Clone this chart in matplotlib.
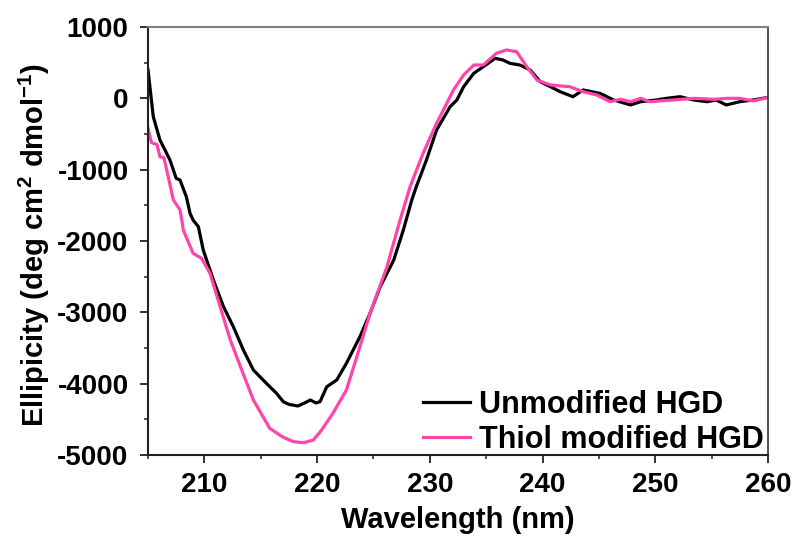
import matplotlib
matplotlib.use("Agg")
import matplotlib.pyplot as plt
from matplotlib.ticker import MultipleLocator

plt.rcParams['font.family'] = ['Liberation Sans', 'DejaVu Sans']
plt.rcParams['font.weight'] = 'bold'
plt.rcParams['axes.unicode_minus'] = False
plt.rcParams['mathtext.fontset'] = 'custom'
plt.rcParams['mathtext.bf'] = 'Liberation Sans:bold'
plt.rcParams['mathtext.rm'] = 'Liberation Sans:bold'
plt.rcParams['mathtext.default'] = 'bf'

# CD spectrum, unmodified protein
wl_unmod = [205.0, 205.47, 206.06, 206.95, 207.5, 207.84, 208.4, 208.73, 209.0, 209.47,
            209.9, 210.8, 211.7, 212.57, 213.46, 214.35, 215.5, 216.4, 217.0, 217.5,
            218.3, 218.9, 219.4, 219.9, 220.26, 220.86, 221.74, 222.6, 223.8, 224.7,
            225.6, 226.8, 227.65, 228.4, 228.8, 229.7, 230.6, 231.8, 232.4, 233.0,
            233.9, 234.75, 235.8, 236.5, 237.1, 238.0, 238.9, 239.8, 240.7, 241.56,
            242.7, 243.6, 245.1, 246.3, 247.8, 248.7, 250.1, 251.0, 252.2, 253.4,
            254.6, 255.4, 256.3, 257.5, 258.7, 260.0]
ell_unmod = [400, -258, -584, -865, -1121, -1145, -1379, -1612, -1706, -1800,
             -2126, -2547, -2921, -3202, -3528, -3809, -3995, -4135, -4253, -4290,
             -4313, -4270, -4229, -4270, -4253, -4043, -3949, -3715, -3342, -3014,
             -2641, -2267, -1846, -1425, -1239, -865, -444, -117, -23, 163,
             351, 444, 561, 537, 491, 467, 397, 233, 163, 93,
             23, 117, 70, -23, -93, -47, -23, 0, 23, -23,
             -47, -23, -93, -47, -23, 14]

# CD spectrum, thiol-modified protein
wl_thiol = [205.0, 205.3, 205.8, 206.06, 206.4, 206.66, 207.25, 207.84, 208.0, 208.13,
            209.0, 209.75, 210.5, 211.4, 212.3, 213.2, 214.35, 215.8, 217.0, 217.9,
            218.8, 219.67, 220.4, 221.4, 222.6, 223.8, 224.7, 226.2, 227.36, 228.25,
            229.4, 230.6, 232.1, 233.0, 233.9, 234.75, 235.9, 236.8, 237.7, 238.6,
            239.5, 240.7, 242.4, 243.6, 244.8, 246.0, 246.9, 247.8, 248.7, 249.5,
            251.6, 253.4, 255.2, 256.4, 257.5, 258.7, 260.0]
ell_thiol = [-420, -620, -650, -818, -830, -1005, -1425, -1565, -1706, -1846,
             -2173, -2243, -2453, -2921, -3388, -3762, -4229, -4627, -4752, -4813,
             -4828, -4790, -4650, -4416, -4089, -3482, -3014, -2360, -1706, -1239,
             -771, -351, 117, 327, 467, 467, 631, 678, 654, 444,
             257, 187, 163, 93, 47, -47, -14, -47, 0, -47,
             -23, 0, -14, 0, 0, -37, 14]

series_labels = ['Unmodified HGD', 'Thiol modified HGD']
series_colors = ['#000000', '#FF44AA']

fig = plt.figure(figsize=(7.96, 5.38), dpi=100)
ax = fig.add_axes([148 / 796, 1 - 455 / 538, 620 / 796, 428 / 538])

ax.plot(wl_unmod, ell_unmod, color=series_colors[0], lw=2.3, label=series_labels[0])
ax.plot(wl_thiol, ell_thiol, color=series_colors[1], lw=2.3, label=series_labels[1])

ax.set_xlim(205, 260)
ax.set_ylim(-5000, 1000)
ax.xaxis.set_major_locator(MultipleLocator(10))
ax.xaxis.set_minor_locator(MultipleLocator(5))
ax.yaxis.set_major_locator(MultipleLocator(1000))
ax.yaxis.set_minor_locator(MultipleLocator(500))
ax.set_xticks([210, 220, 230, 240, 250, 260])

ax.tick_params(which='major', direction='out', length=6, width=1.3, color='#222222',
               labelsize=20)
ax.tick_params(axis='x', which='major', pad=6)
ax.tick_params(axis='y', which='major', pad=8)
ax.tick_params(which='minor', direction='out', length=3, width=1.1, color='#222222')
for lab in ax.get_xticklabels() + ax.get_yticklabels():
    lab.set_fontweight('bold')

for side in ['left', 'bottom']:
    ax.spines[side].set_color('#222222')
    ax.spines[side].set_linewidth(1.5)
ax.spines['top'].set_color('#808080')
ax.spines['top'].set_linewidth(1.5)
ax.spines['right'].set_color('#333333')
ax.spines['right'].set_linewidth(1.2)

ax.set_xlabel('Wavelength (nm)', fontsize=21, fontweight='bold')
ax.set_ylabel(r'Ellipicity (deg cm$^{2}$ dmol$^{-1}$)', fontsize=21, fontweight='bold')
ax.xaxis.set_label_coords(0.5, -0.12)
ax.yaxis.set_label_coords(-0.155, 0.49)

leg = ax.legend(loc='lower right', bbox_to_anchor=(1.022, -0.042), frameon=False,
                fontsize=22, handlelength=1.55, handletextpad=0.28, labelspacing=0.15,
                borderaxespad=0.2)
for t in leg.get_texts():
    t.set_fontweight('bold')

fig.savefig('out.png', dpi=100)
